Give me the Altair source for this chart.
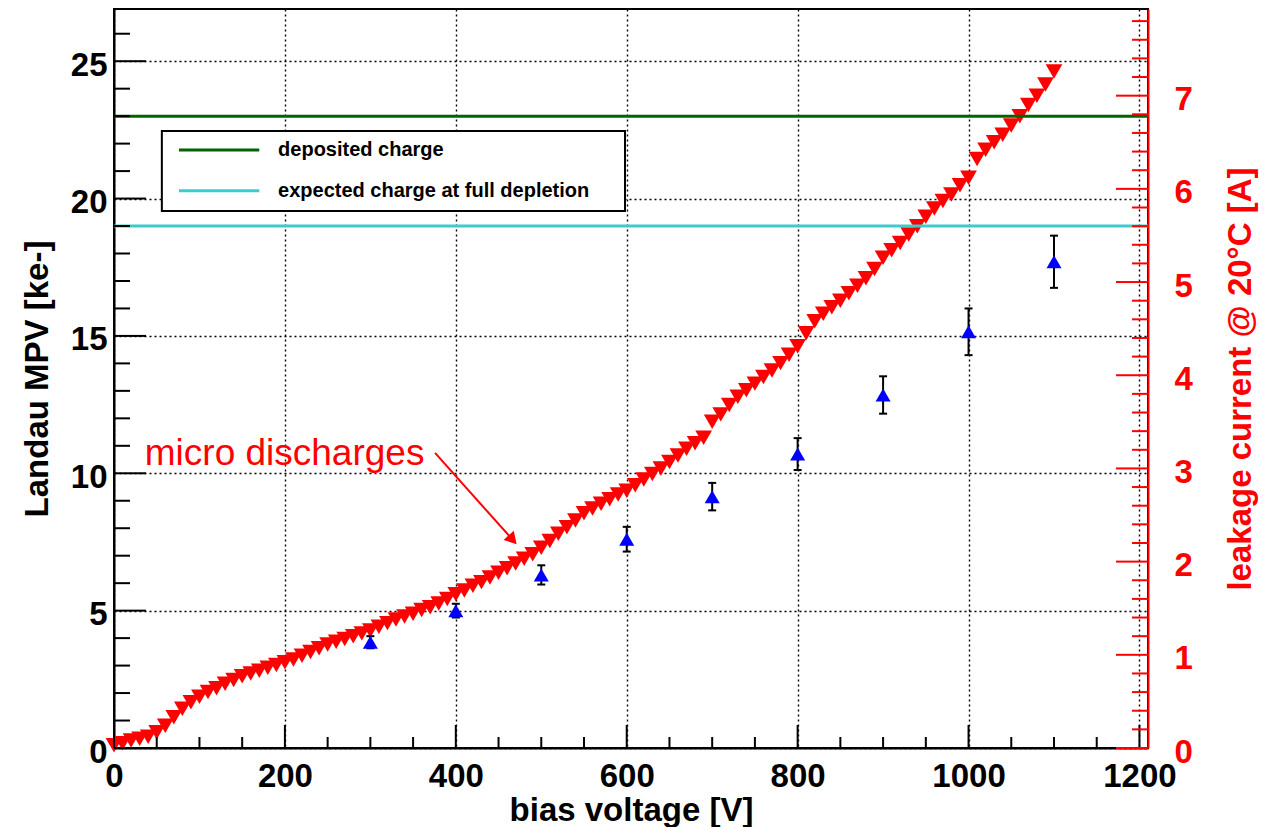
import altair as alt
import pandas as pd

# ---------------------------------------------------------------- data
# leakage current scan (right axis), A at 20 degC
iv_voltage = [
    0, 10, 20, 30, 40, 50, 60, 70, 80, 90,
    100, 110, 120, 130, 140, 150, 160, 170, 180, 190,
    200, 210, 220, 230, 240, 250, 260, 270, 280, 290,
    300, 310, 320, 330, 340, 350, 360, 370, 380, 390,
    400, 410, 420, 430, 440, 450, 460, 470, 480, 490,
    500, 510, 520, 530, 540, 550, 560, 570, 580, 590,
    600, 610, 620, 630, 640, 650, 660, 670, 680, 690,
    700, 710, 720, 730, 740, 750, 760, 770, 780, 790,
    800, 810, 820, 830, 840, 850, 860, 870, 880, 890,
    900, 910, 920, 930, 940, 950, 960, 970, 980, 990,
    1000, 1010, 1020, 1030, 1040, 1050, 1060, 1070, 1080, 1090,
    1100,
]
iv_current = [
    0.03, 0.05, 0.08, 0.10, 0.12, 0.17, 0.24, 0.33, 0.42, 0.49,
    0.55, 0.60, 0.64, 0.69, 0.73, 0.77, 0.80, 0.83, 0.86, 0.89,
    0.92, 0.95, 0.99, 1.03, 1.07, 1.11, 1.14, 1.17, 1.20, 1.23,
    1.26, 1.30, 1.34, 1.38, 1.41, 1.44, 1.48, 1.51, 1.55, 1.60,
    1.65, 1.69, 1.74, 1.78, 1.83, 1.88, 1.93, 1.98, 2.03, 2.08,
    2.15, 2.22, 2.30, 2.37, 2.44, 2.52, 2.57, 2.62, 2.67, 2.72,
    2.76, 2.82, 2.88, 2.94, 3.00, 3.07, 3.14, 3.21, 3.27, 3.33,
    3.50, 3.58, 3.68, 3.77, 3.84, 3.91, 3.98, 4.05, 4.13, 4.22,
    4.31, 4.45, 4.58, 4.66, 4.73, 4.80, 4.88, 4.96, 5.04, 5.14,
    5.26, 5.34, 5.42, 5.51, 5.60, 5.70, 5.79, 5.87, 5.94, 6.04,
    6.12, 6.32, 6.42, 6.50, 6.58, 6.68, 6.78, 6.90, 7.00, 7.12,
    7.26,
]

# Landau most probable value (left axis), ke-
mpv_voltage = [300, 400, 500, 600, 700, 800, 900, 1000, 1100]
mpv_value = [3.85, 5.0, 6.3, 7.6, 9.15, 10.7, 12.85, 15.15, 17.7]
mpv_error = [0.22, 0.25, 0.35, 0.45, 0.5, 0.58, 0.68, 0.85, 0.95]

# reference charge levels, ke-
ref_names = ["deposited charge", "expected charge at full depletion"]
ref_levels = [23.0, 19.0]
ref_colors = ["#006400", "#3ccccc"]

# legend box (in data units: V, ke-)
legend_box_x = [56, 598]
legend_box_y = [19.55, 22.46]
legend_line_x = [76, 170]
legend_line_y = [21.77, 20.28]
legend_text_x = 192

# annotation
note_text = "micro discharges"
note_pos = [36, 10.3]
arrow_start = [375.7, 10.74]
arrow_head = [466.5, 7.58]

# axis ticks
x_major = [0, 200, 400, 600, 800, 1000, 1200]
x_minor = [v for v in range(50, 1201, 50) if v % 200 != 0]
yl_major = [0, 5, 10, 15, 20, 25]
yl_minor = [v for v in range(1, 27) if v % 5 != 0]
yr_major = [0, 1, 2, 3, 4, 5, 6, 7]
yr_minor = [round(i * 0.2, 1) for i in range(1, 40) if i % 5 != 0]

# ---------------------------------------------------------------- layout
W, H = 1034, 739
FONT = "Liberation Sans"
RED = "#ff0000"

x_scale = alt.Scale(domain=[0, 1210], nice=False, zero=False)
yl_scale = alt.Scale(domain=[0, 26.9], nice=False, zero=False)
yr_scale = alt.Scale(domain=[0, 7.93], nice=False, zero=False)

x_axis = alt.Axis(
    values=x_major, format="d", ticks=False, tickSize=0,
    domain=True, domainColor="black", domainWidth=2,
    labelFont=FONT, labelFontWeight="bold", labelFontSize=33, labelColor="black",
    labelPadding=12, labelFlush=False, labelOverlap=False,
    grid=True, gridColor="black", gridDash=[2, 3], gridWidth=1.4, gridOpacity=1,
    title="bias voltage [V]", titleFont=FONT, titleFontWeight="bold", titleFontSize=33,
    titleColor="black", titleX=W / 2, titleY=72, titleAlign="center",
    titleBaseline="alphabetic",
)

yl_axis = alt.Axis(
    orient="left", values=yl_major, format="d", ticks=False, tickSize=0,
    domain=True, domainColor="black", domainWidth=2,
    labelFont=FONT, labelFontWeight="bold", labelFontSize=33, labelColor="black",
    labelPadding=7, labelOffset=4, labelFlush=False, labelOverlap=False,
    grid=True, gridColor="black", gridDash=[2, 3], gridWidth=1.4, gridOpacity=1,
    title="Landau MPV [ke-]", titleFont=FONT, titleFontWeight="bold", titleFontSize=33,
    titleColor="black", titleAngle=270, titleX=-67, titleY=H / 2,
    titleAlign="center", titleBaseline="alphabetic",
)

yr_axis = alt.Axis(
    orient="right", values=yr_major, format="d", ticks=False, tickSize=0,
    domain=True, domainColor=RED, domainWidth=2,
    labelFont=FONT, labelFontWeight="bold", labelFontSize=33, labelColor=RED,
    labelPadding=26, labelOffset=4, labelFlush=False, labelOverlap=False,
    grid=False,
    title="leakage current @ 20°C [A]", titleFont=FONT, titleFontWeight="bold",
    titleFontSize=33, titleColor=RED, titleAngle=270, titleX=102, titleY=H / 2,
    titleAlign="center", titleBaseline="alphabetic",
)


def xq(field):
    return alt.X(field, type="quantitative", scale=x_scale, axis=x_axis)


def yl(field, axis=None):
    return alt.Y(field, type="quantitative", scale=yl_scale, axis=axis)


def yr(field, axis=None):
    return alt.Y(field, type="quantitative", scale=yr_scale, axis=axis)


# ---------------------------------------------------------------- layers
iv_df = pd.DataFrame({"V": iv_voltage, "I": iv_current})
mpv_df = pd.DataFrame({
    "V": mpv_voltage,
    "mpv": mpv_value,
    "lo": [m - e for m, e in zip(mpv_value, mpv_error)],
    "hi": [m + e for m, e in zip(mpv_value, mpv_error)],
})
ref_df = pd.DataFrame({"name": ref_names, "level": ref_levels})

legend_box = alt.Chart(pd.DataFrame({
    "x": [legend_box_x[0]], "x2": [legend_box_x[1]],
    "y": [legend_box_y[0]], "y2": [legend_box_y[1]],
})).mark_rect(fill="white", stroke="black", strokeWidth=2).encode(
    x=xq("x"), x2="x2", y=yl("y"), y2="y2"
)

leakage = alt.Chart(iv_df).mark_point(
    shape="triangle-down", filled=True, size=280, color=RED, opacity=1, strokeWidth=0
).encode(x=xq("V"), y=yr("I", axis=yr_axis))

ref_lines = alt.Chart(ref_df).mark_rule(strokeWidth=3).encode(
    y=yl("level"), x=alt.value(0), x2=alt.value(W),
    color=alt.Color("name:N", scale=alt.Scale(domain=ref_names, range=ref_colors), legend=None),
)

err_bars = alt.Chart(mpv_df).mark_rule(color="black", strokeWidth=2).encode(
    x=xq("V"), y=yl("lo"), y2="hi"
)
err_caps_hi = alt.Chart(mpv_df).mark_rule(
    color="black", strokeWidth=2, xOffset=-4, x2Offset=4
).encode(x=xq("V"), x2="V", y=yl("hi"))
err_caps_lo = alt.Chart(mpv_df).mark_rule(
    color="black", strokeWidth=2, xOffset=-4, x2Offset=4
).encode(x=xq("V"), x2="V", y=yl("lo"))

mpv_points = alt.Chart(mpv_df).mark_point(
    shape="triangle-up", filled=True, size=225, color="#0000ff", opacity=1, strokeWidth=0
).encode(x=xq("V"), y=yl("mpv"))

legend_df = pd.DataFrame({
    "name": ref_names, "x": [legend_line_x[0]] * 2, "x2": [legend_line_x[1]] * 2,
    "y": legend_line_y, "tx": [legend_text_x] * 2,
})
legend_lines = alt.Chart(legend_df).mark_rule(strokeWidth=3).encode(
    x=xq("x"), x2="x2", y=yl("y"),
    color=alt.Color("name:N", scale=alt.Scale(domain=ref_names, range=ref_colors), legend=None),
)
legend_text = alt.Chart(legend_df).mark_text(
    align="left", baseline="middle", font=FONT, fontWeight="bold", fontSize=20, color="black"
).encode(x=xq("tx"), y=yl("y"), text="name:N")

note = alt.Chart(pd.DataFrame({"x": [note_pos[0]], "y": [note_pos[1]], "t": [note_text]})).mark_text(
    align="left", baseline="alphabetic", font=FONT, fontSize=37, color=RED
).encode(x=xq("x"), y=yl("y"), text="t:N")

arrow_line = alt.Chart(pd.DataFrame({
    "x": [arrow_start[0]], "y": [arrow_start[1]], "x2": [arrow_head[0]], "y2": [arrow_head[1]],
})).mark_rule(color=RED, strokeWidth=2).encode(x=xq("x"), x2="x2", y=yl("y"), y2="y2")

arrow_tip = alt.Chart(pd.DataFrame({"x": [arrow_head[0]], "y": [arrow_head[1]]})).mark_point(
    shape="triangle-right", filled=True, size=190, color=RED, opacity=1, strokeWidth=0, angle=48
).encode(x=xq("x"), y=yl("y"))

# tick marks drawn inward, ROOT style
x_ticks_major = alt.Chart(pd.DataFrame({"v": x_major})).mark_rule(color="black", strokeWidth=2).encode(
    x=xq("v"), y=alt.value(H), y2=alt.value(H - 23))
x_ticks_minor = alt.Chart(pd.DataFrame({"v": x_minor})).mark_rule(color="black", strokeWidth=2).encode(
    x=xq("v"), y=alt.value(H), y2=alt.value(H - 11))
yl_ticks_major = alt.Chart(pd.DataFrame({"v": yl_major})).mark_rule(color="black", strokeWidth=2).encode(
    y=yl("v", axis=yl_axis), x=alt.value(0), x2=alt.value(32))
yl_ticks_minor = alt.Chart(pd.DataFrame({"v": yl_minor})).mark_rule(color="black", strokeWidth=2).encode(
    y=yl("v"), x=alt.value(0), x2=alt.value(16))
yr_ticks_major = alt.Chart(pd.DataFrame({"v": yr_major})).mark_rule(color=RED, strokeWidth=2).encode(
    y=yr("v"), x=alt.value(W - 32), x2=alt.value(W))
yr_ticks_minor = alt.Chart(pd.DataFrame({"v": yr_minor})).mark_rule(color=RED, strokeWidth=2).encode(
    y=yr("v"), x=alt.value(W - 16), x2=alt.value(W))

chart = alt.layer(
    legend_box,
    leakage,
    ref_lines,
    err_bars, err_caps_hi, err_caps_lo,
    mpv_points,
    legend_lines, legend_text,
    note, arrow_line, arrow_tip,
    x_ticks_major, x_ticks_minor,
    yl_ticks_major, yl_ticks_minor,
    yr_ticks_major, yr_ticks_minor,
).resolve_scale(
    y="independent", color="shared"
).properties(
    width=W, height=H,
    padding={"left": 114, "top": 9, "right": 124, "bottom": 79},
    autosize=alt.AutoSizeParams(type="none"),
    background="white",
).configure_view(
    stroke="black", strokeWidth=2
)

chart.save("out.html", embed_options={"renderer": "svg", "actions": False})
